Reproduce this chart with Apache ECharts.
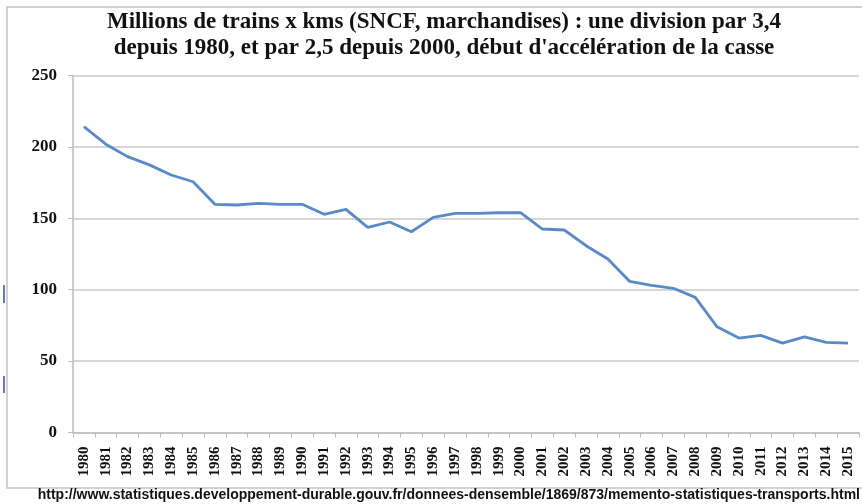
<!DOCTYPE html>
<html><head><meta charset="utf-8">
<script src="https://cdn.jsdelivr.net/npm/echarts@6/dist/echarts.min.js"></script>
<style>html,body{margin:0;padding:0;background:#fff}#c{width:862px;height:504px}</style>
</head><body><div id="c"></div>
<script>
const years = ['1980','1981','1982','1983','1984','1985','1986','1987','1988','1989','1990','1991','1992','1993','1994','1995','1996','1997','1998','1999','2000','2001','2002','2003','2004','2005','2006','2007','2008','2009','2010','2011','2012','2013','2014','2015'];
const trainKm = [214.2,201.9,193.2,187.4,180.3,175.6,159.8,159.3,160.5,159.8,159.8,152.8,156.3,143.7,147.4,140.6,150.7,153.5,153.5,153.9,153.9,142.5,141.8,130.8,121.5,105.8,103.0,101.0,94.6,74.0,66.1,68.0,62.6,67.0,63.1,62.6];
const titleLines = ["Millions de trains x kms (SNCF, marchandises) : une division par 3,4", "depuis 1980, et par 2,5 depuis 2000, début d'accélération de la casse"];
const sourceText = 'http://www.statistiques.developpement-durable.gouv.fr/donnees-densemble/1869/873/memento-statistiques-transports.html';

const chart = echarts.init(document.getElementById('c'), null, {renderer:'canvas'});
const serif = '"Liberation Serif","DejaVu Serif",serif';
chart.setOption({
  animation:false,
  backgroundColor:'#ffffff',
  title:{
    text: titleLines.join('\n'),
    left: 439, top: 4, textAlign:'center',
    textStyle:{fontFamily:serif, fontWeight:'bold', fontSize:23, lineHeight:26, color:'#111'}
  },
  graphic:[
    {type:'rect', shape:{x:7, y:7, width:870, height:481}, style:{fill:null, stroke:'#c4c4c4', lineWidth:1.5}, z:-1},
    {type:'line', shape:{x1:4, y1:285, x2:4, y2:303}, style:{stroke:'#2a4fa0', lineWidth:1.5}},
    {type:'line', shape:{x1:4, y1:376, x2:4, y2:393}, style:{stroke:'#2a4fa0', lineWidth:1.5}},
    {type:'text', right:2, top:488, style:{text:sourceText, font:'bold 14px "Liberation Sans", Arial, sans-serif', fill:'#111'}}
  ],
  grid:{left:73, right:3, top:75.5, bottom:71.5, containLabel:false},
  xAxis:{
    type:'category', data:years, boundaryGap:true,
    axisLine:{lineStyle:{color:'#bdbdbd', width:1.5}},
    axisTick:{show:true, alignWithLabel:false, length:5, lineStyle:{color:'#bdbdbd'}},
    axisLabel:{rotate:90, interval:0, margin:14, fontFamily:serif, fontWeight:'bold', fontSize:15, color:'#111'}
  },
  yAxis:{
    type:'value', min:0, max:250, interval:50,
    axisLine:{show:true, lineStyle:{color:'#bdbdbd', width:1.5}},
    axisTick:{show:true, length:5, lineStyle:{color:'#bdbdbd'}},
    splitLine:{lineStyle:{color:'#c8c8c8', width:1.5}},
    axisLabel:{margin:16, fontFamily:serif, fontWeight:'bold', fontSize:17, color:'#111'}
  },
  series:[{
    type:'line', data:trainKm, showSymbol:false, symbol:'none',
    lineStyle:{color:'#5a8ac6', width:2.8}
  }]
});
</script></body></html>
